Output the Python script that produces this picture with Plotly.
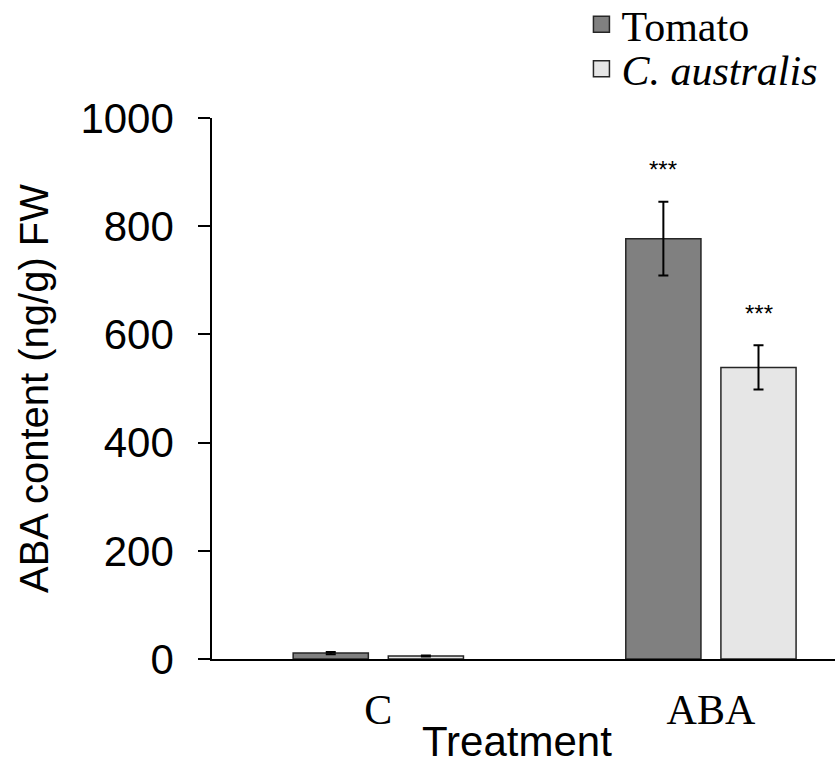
import plotly.graph_objects as go

categories = ["C", "ABA"]
series_names = ["Tomato", "<i>C. australis</i>"]
tomato_vals = [11, 777]
tomato_err = [2, 68]
australis_vals = [5.5, 539]
australis_err = [1, 41]
tomato_sig = ["", "***"]
australis_sig = ["", "***"]
y_ticks = [0, 200, 400, 600, 800, 1000]

colors = ["#808080", "#e6e6e6"]
edge = "#262626"
bar_w = 0.226
offsets = [-0.256, 0.030]

SANS = "Liberation Sans, Arial, sans-serif"
SERIF = "Liberation Serif, Times New Roman, serif"

fig = go.Figure()
series = [(tomato_vals, tomato_err, tomato_sig), (australis_vals, australis_err, australis_sig)]
legends = ["legend", "legend2"]
for i, (vals, errs, sig) in enumerate(series):
    fig.add_trace(go.Bar(
        x=categories, y=vals, width=bar_w, offset=offsets[i],
        marker=dict(color=colors[i], line=dict(color=edge, width=1.5)),
        error_y=dict(type="data", array=errs, color="black", thickness=2, width=5),
        showlegend=False,
    ))
    fig.add_trace(go.Scatter(
        x=[None], y=[None], mode="markers", name=series_names[i],
        marker=dict(symbol="square", size=22, color=colors[i], line=dict(color=edge, width=1.5)),
        legend=legends[i],
    ))
    for j, cat in enumerate(categories):
        if sig[j]:
            fig.add_annotation(
                x=j + offsets[i] + bar_w / 2, y=vals[j] + errs[j], xref="x", yref="y",
                text=sig[j], showarrow=False, yanchor="middle", yshift=32,
                font=dict(family=SANS, size=24, color="black"),
            )

fig.add_annotation(
    x=0.49, y=-0.153, xref="paper", yref="paper", text="Treatment", showarrow=False,
    xanchor="center", yanchor="middle", font=dict(family=SANS, size=42, color="black"),
)

fig.update_layout(
    width=835, height=765,
    margin=dict(l=212, r=0, t=118, b=106, autoexpand=False),
    plot_bgcolor="white", paper_bgcolor="white",
    barmode="overlay",
    legend=dict(x=0.593, y=1.173, xanchor="left", yanchor="middle",
                font=dict(family=SERIF, size=42, color="black"), bgcolor="rgba(0,0,0,0)"),
    legend2=dict(x=0.593, y=1.0905, xanchor="left", yanchor="middle",
                 font=dict(family=SERIF, size=42, color="black"), bgcolor="rgba(0,0,0,0)"),
    xaxis=dict(
        type="category", categoryorder="array", categoryarray=categories,
        range=[-0.5, 1.373], showline=True, linecolor="black", linewidth=1.5,
        ticks="", showgrid=False, zeroline=False,
        tickfont=dict(family=SERIF, size=42, color="black"), ticklabelstandoff=13,
    ),
    yaxis=dict(
        range=[0, 1000], tickvals=y_ticks, ticks="outside", ticklen=12, tickwidth=1.5,
        tickcolor="black", showline=True, linecolor="black", linewidth=1.5,
        showgrid=False, zeroline=False,
        tickfont=dict(family=SANS, size=42, color="black"), ticklabelstandoff=16,
        title=dict(text="ABA content (ng/g) FW", font=dict(family=SANS, size=40, color="black"), standoff=19),
    ),
)

fig.write_html("out.html", config={"displayModeBar": False},
               post_script="document.body.style.margin='0';document.body.style.overflow='hidden';")
